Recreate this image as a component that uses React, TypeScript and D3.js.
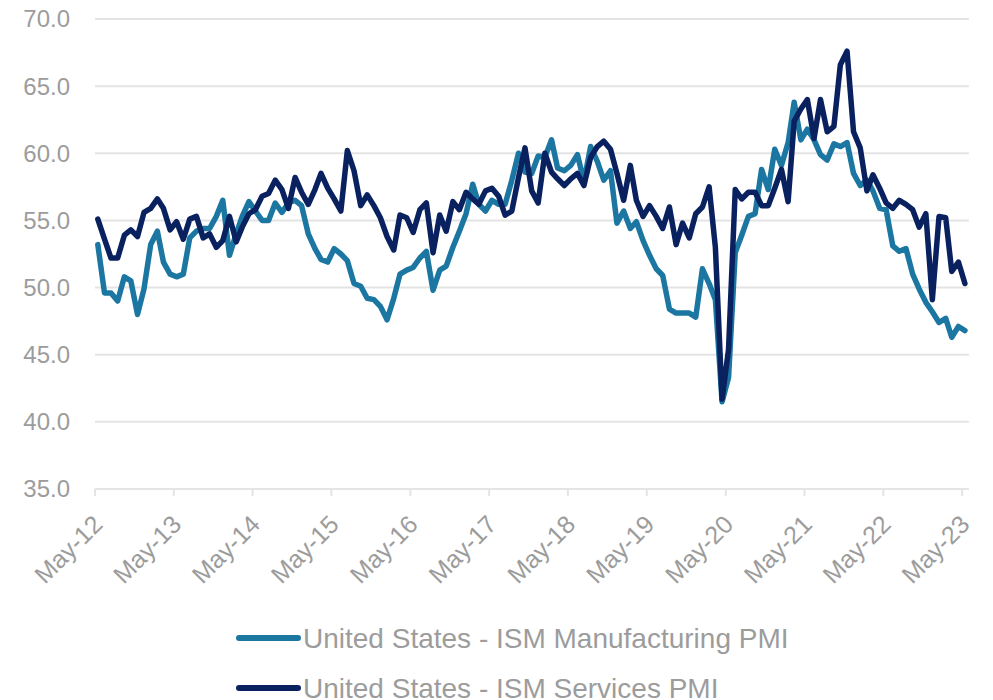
import { useMemo } from "react";
import * as d3 from "d3";

// monthly readings, May-12 .. May-23
const manufacturing = [
  53.2, 49.6, 49.6, 49.0, 50.8, 50.5, 48.0, 49.9, 53.2, 54.2, 51.9, 51.0,
  50.8, 51.0, 53.7, 54.2, 54.4, 54.4, 55.3, 56.5, 52.4, 54.0, 55.3, 56.4,
  55.7, 55.0, 55.0, 56.3, 55.6, 56.3, 56.5, 56.1, 54.0, 52.9, 52.1, 51.9,
  52.9, 52.5, 52.0, 50.3, 50.1, 49.2, 49.1, 48.6, 47.6, 49.2, 51.0, 51.3,
  51.5, 52.2, 52.7, 49.8, 51.3, 51.6, 53.0, 54.2, 55.5, 57.7, 56.2, 55.7,
  56.5, 56.2, 56.2, 58.0, 60.0, 58.6, 58.5, 59.8, 59.7, 61.0, 58.9, 58.7,
  59.1, 59.9, 57.9, 60.5, 59.4, 58.0, 58.7, 54.8, 55.7, 54.4, 54.9, 53.5,
  52.4, 51.4, 50.9, 48.4, 48.1, 48.1, 48.1, 47.8, 51.4, 50.3, 49.1, 41.5,
  43.3, 52.6, 53.9, 55.3, 55.5, 58.8, 57.3, 60.3, 59.1, 60.8, 63.8, 61.0,
  61.8, 61.0, 59.9, 59.5, 60.7, 60.5, 60.8, 58.5, 57.6, 58.0, 57.2, 55.9,
  55.8, 53.1, 52.7, 52.9, 51.0, 49.9, 48.9, 48.2, 47.4, 47.7, 46.3, 47.1,
  46.8,
];

const services = [
  55.1, 53.6, 52.2, 52.2, 53.9, 54.3, 53.8, 55.6, 55.9, 56.6, 55.9, 54.3,
  54.9, 53.6, 55.1, 55.3, 53.7, 54.0, 53.0, 53.5, 55.3, 53.4, 54.5, 55.5,
  55.8, 56.8, 57.0, 58.0, 57.3, 55.9, 58.2, 57.1, 56.2, 57.3, 58.5, 57.4,
  56.6, 55.7, 60.2, 58.7, 56.1, 56.9, 56.1, 55.2, 53.8, 52.8, 55.4, 55.2,
  54.1, 55.8, 56.3, 52.6, 55.4, 54.2, 56.4, 55.8, 57.1, 56.6, 56.2, 57.2,
  57.4, 56.8, 55.4, 55.7, 58.2, 60.4, 57.2, 56.3, 60.0, 58.6, 58.1, 57.6,
  58.1, 58.5, 57.6, 59.7, 60.5, 60.9, 60.3, 58.5, 56.5, 59.1, 56.5, 55.3,
  56.1, 55.3, 54.4, 56.0, 53.2, 54.8, 53.7, 55.5, 56.0, 57.5, 53.0, 41.7,
  45.4, 57.3, 56.6, 57.1, 57.1, 56.1, 56.1, 57.4, 58.8, 56.4, 62.4, 63.3,
  64.0, 61.1, 64.0, 61.6, 62.0, 66.6, 67.6, 61.6, 60.4, 57.2, 58.4, 57.4,
  56.3, 55.9, 56.5, 56.2, 55.8, 54.5, 55.5, 49.1, 55.3, 55.2, 51.2, 51.9,
  50.3,
];

const seriesNames = [
  "United States - ISM Manufacturing PMI",
  "United States - ISM Services PMI",
];
const yTicks = [35, 40, 45, 50, 55, 60, 65, 70];
const tickYears = d3.range(2012, 2024);

const colors = ["#1b76a2", "#0a2160"];
const grey = "#9c9c9c";
const gridColor = "#e4e4e4";
const font = "'Liberation Sans', Arial, sans-serif";

export default function App() {
  const left = 95;
  const right = 968.8;
  const top = 19;
  const bottom = 489;

  const months = useMemo(
    () => manufacturing.map((_, i) => new Date(2012, 4 + i, 14)),
    []
  );

  const x = d3
    .scaleTime()
    .domain([new Date(2012, 4, 1), new Date(2023, 5, 1)])
    .range([left, right]);
  const y = d3.scaleLinear().domain([35, 70]).range([bottom, top]);

  const line = d3
    .line<number>()
    .x((_, i) => x(months[i]))
    .y((d) => y(d));

  const ticks = tickYears.map((yr) => new Date(yr, 4, 1));
  const fmt = d3.timeFormat("%b-%y");

  return (
    <svg
      width={993}
      height={700}
      style={{ position: "absolute", left: 0, top: 0, background: "#fff" }}
      fontFamily={font}
    >
      {yTicks.map((t) => (
        <g key={t}>
          <line
            x1={left}
            x2={right}
            y1={y(t)}
            y2={y(t)}
            stroke={gridColor}
            strokeWidth={2}
          />
          <text
            x={70}
            y={y(t)}
            dy="0.35em"
            textAnchor="end"
            fontSize={24}
            fill={grey}
          >
            {t.toFixed(1)}
          </text>
        </g>
      ))}
      {ticks.map((d) => (
        <g key={d.getFullYear()}>
          <line
            x1={x(d)}
            x2={x(d)}
            y1={bottom}
            y2={bottom + 7}
            stroke={gridColor}
            strokeWidth={2}
          />
          <text
            transform={`translate(${x(d) + 9},${bottom + 37}) rotate(-45)`}
            textAnchor="end"
            fontSize={25}
            fill={grey}
          >
            {fmt(d)}
          </text>
        </g>
      ))}
      {[manufacturing, services].map((s, k) => (
        <path
          key={k}
          d={line(s) ?? ""}
          fill="none"
          stroke={colors[k]}
          strokeWidth={5.5}
          strokeLinejoin="round"
          strokeLinecap="round"
        />
      ))}
      {seriesNames.map((name, k) => (
        <g key={name} transform={`translate(0,${638 + k * 50})`}>
          <line
            x1={239}
            x2={298}
            y1={0}
            y2={0}
            stroke={colors[k]}
            strokeWidth={6}
            strokeLinecap="round"
          />
          <text x={303} dy="0.36em" fontSize={28} fill={grey}>
            {name}
          </text>
        </g>
      ))}
    </svg>
  );
}
